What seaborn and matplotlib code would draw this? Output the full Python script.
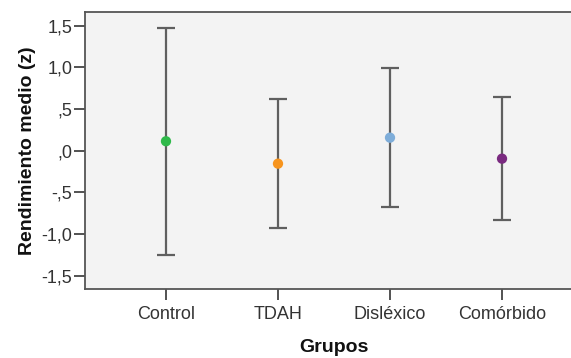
import matplotlib
matplotlib.use("Agg")
import matplotlib.pyplot as plt
import seaborn as sns
import pandas as pd

groups = ["Control", "TDAH", "Disléxico", "Comórbido"]
means = [0.113, -0.156, 0.156, -0.096]
lower = [-1.248, -0.93, -0.68, -0.835]
upper = [1.476, 0.62, 0.989, 0.64]
colors = ["#2fb94a", "#f7941d", "#7eadd9", "#7a2a80"]
yticks = [1.5, 1.0, 0.5, 0.0, -0.5, -1.0, -1.5]
ytick_labels = ["1,5", "1,0", ",5", ",0", "-,5", "-1,0", "-1,5"]

sns.set_theme(style="white")
plt.rcParams["font.family"] = ["Liberation Sans", "DejaVu Sans"]

df = pd.DataFrame({"grupo": groups, "media": means, "low": lower, "high": upper})

fig = plt.figure(figsize=(5.71, 3.58), dpi=100)
ax = fig.add_axes([85 / 571, 1 - 289 / 358, (583 - 85) / 571, (289 - 12) / 358])
ax.set_facecolor("#f3f3f3")

x = list(range(len(groups)))
ax.errorbar(x, df["media"], yerr=[df["media"] - df["low"], df["high"] - df["media"]],
            fmt="none", ecolor="#5f5f5f", elinewidth=1.6, capsize=6.2, capthick=1.6, zorder=2)
sns.scatterplot(data=df, x="grupo", y="media", hue="grupo", palette=colors, s=55,
                edgecolor="none", legend=False, ax=ax, zorder=3)

ax.set_xlim(-0.723, 3.723)
ax.set_ylim(-1.66, 1.664)
ax.set_yticks(yticks)
ax.set_yticklabels(ytick_labels)
ax.set_xticks(x)
ax.set_xticklabels(groups)
ax.tick_params(axis="both", which="both", direction="out", length=8, width=1.3,
               color="#444444", labelsize=13, labelcolor="#333333", pad=1,
               bottom=True, left=True, top=False, right=False)
ax.tick_params(axis="x", pad=4, length=8)
for s in ax.spines.values():
    s.set_color("#555555")
    s.set_linewidth(1.3)

ax.set_xlabel("Grupos", fontsize=14, fontweight="bold", color="#111111", labelpad=12)
ax.set_ylabel("Rendimiento medio (z)", fontsize=14, fontweight="bold", color="#111111", labelpad=4)

fig.savefig("out.png", dpi=100)
